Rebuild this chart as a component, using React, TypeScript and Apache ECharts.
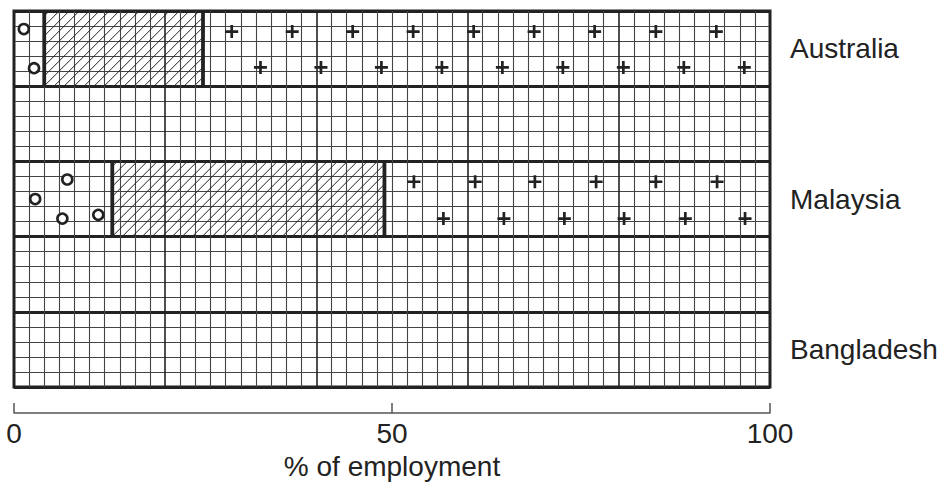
import React, { useEffect, useRef } from 'react';
import * as echarts from 'echarts';

// ---- data ----
const categoryLabels = ['Australia', '', 'Malaysia', '', 'Bangladesh'];
const countries = ['Australia', 'Malaysia', 'Bangladesh'];
// % of employment by sector (primary = circles, secondary = hatched, tertiary = plus)
const primaryPct: (number | null)[] = [4, 13, null];
const secondaryPct: (number | null)[] = [21, 36, null];
const tertiaryPct: (number | null)[] = [75, 51, null];
const xTickValues = [0, 50, 100];
// symbol markers inside bars: [x %, row]
const circlePoints: number[][] = [
  [1.3, 1.2], [2.65, 3.8],
  [7.05, 11.2], [2.8, 12.5], [6.4, 13.8], [11.15, 13.55],
];
const plusPoints: number[][] = [
  [28.8, 1.37], [36.8, 1.37], [44.8, 1.37], [52.8, 1.37], [60.8, 1.37], [68.8, 1.37], [76.8, 1.37], [84.9, 1.37], [92.9, 1.37],
  [32.6, 3.75], [40.6, 3.75], [48.6, 3.75], [56.6, 3.75], [64.6, 3.75], [72.6, 3.75], [80.6, 3.75], [88.6, 3.75], [96.6, 3.75],
  [52.9, 11.35], [61.0, 11.35], [68.9, 11.35], [77.0, 11.35], [84.9, 11.35], [93.0, 11.35],
  [56.8, 13.8], [64.8, 13.8], [72.8, 13.8], [80.7, 13.8], [88.8, 13.8], [96.7, 13.8],
];

const ROWS_PER_BAR = 5;
const ROWS_PER_SLOT = 10;
const TOTAL_ROWS = 25;

const segmentData: number[][] = [];
countries.forEach((_, i) => {
  const p = primaryPct[i], s = secondaryPct[i], t = tertiaryPct[i];
  if (p == null || s == null || t == null) return;
  const row = i * ROWS_PER_SLOT;
  segmentData.push([row, 0, p, 0]);
  segmentData.push([row, p, p + s, 1]);
  segmentData.push([row, p + s, p + s + t, 2]);
});

const INK = '#222';

export default function App() {
  const ref = useRef<HTMLDivElement>(null);
  useEffect(() => {
    if (!ref.current) return;
    const chart = echarts.init(ref.current, undefined, { renderer: 'svg' });
    const font = '"Liberation Sans", Arial, Helvetica, sans-serif';
    chart.setOption({
      animation: false,
      backgroundColor: '#fff',
      textStyle: { fontFamily: font },
      grid: {
        left: 14, right: 178, top: 11, bottom: 95,
        show: true, borderColor: INK, borderWidth: 3, backgroundColor: 'transparent',
      },
      xAxis: [
        {
          type: 'value', min: 0, max: 100, interval: 20,
          axisLine: { show: false }, axisTick: { show: false }, axisLabel: { show: false },
          splitLine: { show: true, lineStyle: { color: INK, width: 1.6 } },
          minorTick: { show: false, splitNumber: 10 },
          minorSplitLine: { show: true, lineStyle: { color: '#444', width: 1.1 } },
        },
        {
          type: 'value', min: 0, max: 100, interval: 50, position: 'bottom', offset: 26,
          axisLine: { show: true, lineStyle: { color: '#555', width: 1.5 } },
          axisTick: { show: true, inside: true, length: 10, lineStyle: { color: '#555', width: 1.5 } },
          axisLabel: {
            show: true, fontSize: 28, color: INK, margin: 6, fontFamily: font,
            formatter: (v: number) => (xTickValues.includes(v) ? String(v) : ''),
          },
          splitLine: { show: false },
          name: '% of employment', nameLocation: 'middle', nameGap: 38,
          nameTextStyle: { fontSize: 28, color: INK, fontFamily: font },
        },
      ],
      yAxis: [
        {
          type: 'value', min: 0, max: TOTAL_ROWS, interval: ROWS_PER_BAR, inverse: true,
          axisLine: { show: false }, axisTick: { show: false }, axisLabel: { show: false },
          splitLine: { show: true, lineStyle: { color: INK, width: 2.8 } },
          minorTick: { show: false, splitNumber: ROWS_PER_BAR },
          minorSplitLine: { show: true, lineStyle: { color: '#444', width: 1.1 } },
        },
        {
          type: 'category', data: categoryLabels, position: 'right', inverse: true,
          axisLine: { show: false }, axisTick: { show: false },
          axisLabel: { show: true, fontSize: 28, color: INK, margin: 20, fontFamily: font },
          splitLine: { show: false },
        },
      ],
      series: [
        {
          type: 'custom',
          xAxisIndex: 0, yAxisIndex: 0,
          data: segmentData,
          clip: false,
          renderItem: (params: any, api: any) => {
            const row = api.value(0), start = api.value(1), end = api.value(2), kind = api.value(3);
            const p0 = api.coord([start, row]);
            const p1 = api.coord([end, row + ROWS_PER_BAR]);
            const x0 = p0[0], y0 = p0[1], x1 = p1[0], y1 = p1[1];
            const w = x1 - x0, h = y1 - y0;
            const children: any[] = [];
            if (kind === 1) {
              const step = 10;
              for (let c = step * 0.5; c < w + h; c += step) {
                const K = x0 + y0 + c;
                let xt = K - y0, yt = y0;
                if (xt > x1) { xt = x1; yt = K - x1; }
                let xb = K - y1, yb = y1;
                if (xb < x0) { xb = x0; yb = K - x0; }
                children.push({
                  type: 'line',
                  shape: { x1: xb, y1: yb, x2: xt, y2: yt },
                  style: { stroke: '#222', lineWidth: 1 },
                });
              }
            }
            if (end < 100) {
              children.push({
                type: 'line',
                shape: { x1: x1, y1: y0, x2: x1, y2: y1 },
                style: { stroke: INK, lineWidth: 3.8 },
              });
            }
            return { type: 'group', children };
          },
          z: 3,
        },
        {
          type: 'scatter', xAxisIndex: 0, yAxisIndex: 0,
          data: circlePoints,
          symbol: 'circle', symbolSize: 10,
          itemStyle: { color: '#fff', borderColor: INK, borderWidth: 2.6, opacity: 1 },
          z: 4,
        },
        {
          type: 'scatter', xAxisIndex: 0, yAxisIndex: 0,
          data: plusPoints,
          symbol: 'path://M9.5,0H14.5V9.5H24V14.5H14.5V24H9.5V14.5H0V9.5H9.5Z',
          symbolSize: 13,
          itemStyle: { color: INK, opacity: 1 },
          z: 4,
        },
      ],
    });
    return () => chart.dispose();
  }, []);
  return (
    <div
      ref={ref}
      style={{ position: 'fixed', left: 0, top: 0, width: 948, height: 485, background: '#fff' }}
    />
  );
}
